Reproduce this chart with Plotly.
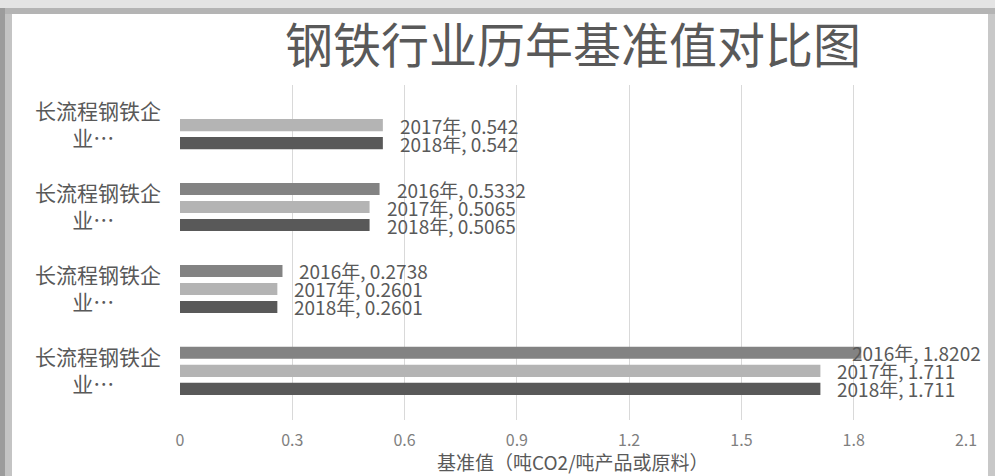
import plotly.graph_objects as go

# ---- data ----
categories = ["长流程钢铁企业…", "长流程钢铁企业…", "长流程钢铁企业…", "长流程钢铁企业…"]  # bottom -> top
cat_pos = [0, 1, 2, 3]
years = ["2018年", "2017年", "2016年"]          # trace order bottom -> top within a group
vals_2018 = [1.711, 0.2601, 0.5065, 0.542]
vals_2017 = [1.711, 0.2601, 0.5065, 0.542]
vals_2016 = [1.8202, 0.2738, 0.5332, None]
series = [vals_2018, vals_2017, vals_2016]
colors = ["#595959", "#b4b4b4", "#838383"]
x_ticks = [0, 0.3, 0.6, 0.9, 1.2, 1.5, 1.8, 2.1]
title_text = "钢铁行业历年基准值对比图"
x_title = "基准值（吨CO2/吨产品或原料）"

W, H = 995, 476
ML, MR, MT, MB = 180, 29, 85, 56
BARGAP = 0.34
XMAX = 2.1
FONT = "Noto Sans CJK SC"

fig = go.Figure()
for name, vals, col in zip(years, series, colors):
    fig.add_trace(go.Bar(
        y=cat_pos, x=vals, orientation="h", name=name,
        marker=dict(color=col, line=dict(width=0)),
        hoverinfo="x+name",
    ))

pw = W - ML - MR
ph = H - MT - MB
def px_x(p):
    return (p - ML) / pw
def px_y(p):
    return (H - MB - p) / ph

# data labels (Excel-style "series, value"); a label that would run past the
# chart edge is pulled back so it ends at the edge
n = len(series)
slot = (1 - BARGAP) / n
annotations = []
for i, (name, vals) in enumerate(zip(years, series)):
    for c, v in zip(cat_pos, vals):
        if v is None:
            continue
        yy = c - (1 - BARGAP) / 2 + slot * (i + 0.5)
        near_edge = v > 1.75
        annotations.append(dict(
            x=XMAX if near_edge else v, y=yy, xref="x", yref="y",
            text=f"{name}, {v:g}", showarrow=False,
            xanchor="right" if near_edge else "left",
            xshift=17 if near_edge else 15,
            font=dict(family=FONT, size=19, color="#595959"),
        ))

# axis title
annotations.append(dict(
    x=0.5, y=px_y(461), xref="paper", yref="paper", text=x_title, showarrow=False,
    font=dict(family=FONT, size=19, color="#595959"), yanchor="middle", borderpad=0,
))

shapes = [
    # photo frame shadow: left, top, right
    dict(type="rect", xref="paper", yref="paper", x0=px_x(0), x1=px_x(5), y0=px_y(476), y1=px_y(8),
         fillcolor="#9c9c9c", line=dict(width=0), layer="above"),
    dict(type="rect", xref="paper", yref="paper", x0=px_x(5), x1=px_x(12), y0=px_y(476), y1=px_y(14),
         fillcolor="#c4c4c4", line=dict(width=0), layer="above"),
    dict(type="rect", xref="paper", yref="paper", x0=px_x(0), x1=px_x(995), y0=px_y(8), y1=px_y(0),
         fillcolor="#e4e4e4", line=dict(width=0), layer="above"),
    dict(type="rect", xref="paper", yref="paper", x0=px_x(5), x1=px_x(995), y0=px_y(14), y1=px_y(8),
         fillcolor="#b4b4b4", line=dict(width=0), layer="above"),
    dict(type="rect", xref="paper", yref="paper", x0=px_x(988), x1=px_x(995), y0=px_y(476), y1=px_y(14),
         fillcolor="#c8c8c8", line=dict(width=0), layer="above"),
]

fig.update_layout(
    width=W, height=H,
    margin=dict(l=ML, r=MR, t=MT, b=MB, autoexpand=False),
    paper_bgcolor="white", plot_bgcolor="white",
    barmode="group", bargap=BARGAP, bargroupgap=0.33,
    showlegend=False,
    title=dict(text=title_text, x=0.5, xref="paper", xanchor="center",
               y=1 - 46 / H, yref="container", yanchor="middle",
               font=dict(family=FONT, size=48, color="#595959")),
    xaxis=dict(range=[0, XMAX], tickvals=x_ticks, ticktext=[f"{t:g}" for t in x_ticks],
               showgrid=True, gridcolor="#d9d9d9", gridwidth=1, zeroline=False,
               showline=False, ticks="outside", ticklen=6, tickcolor="rgba(0,0,0,0)",
               tickfont=dict(family=FONT, size=16, color="#7f7f7f"), fixedrange=True),
    yaxis=dict(range=[-0.6, 3.49], tickvals=cat_pos,
               ticktext=[c.replace("企", "企<br>") + "\u3000\u3000\u00a0" for c in categories],
               showgrid=False, zeroline=False, showline=False, ticks="",
               ticklabelstandoff=18,
               tickfont=dict(family=FONT, size=21, color="#595959"), fixedrange=True),
    annotations=annotations,
    shapes=shapes,
    font=dict(family=FONT),
)
fig.write_html("out.html", config={"displayModeBar": False},
               post_script="document.body.style.margin='0';")
